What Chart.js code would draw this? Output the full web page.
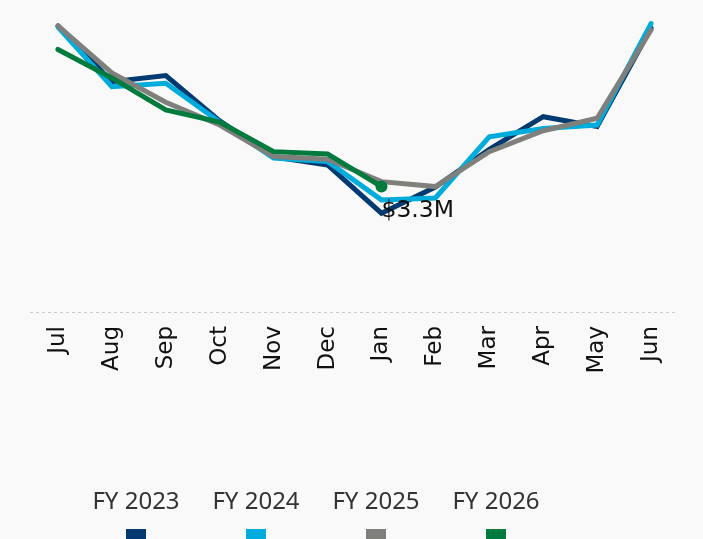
<!DOCTYPE html>
<html>
<head>
<meta charset="utf-8">
<script src="https://cdn.jsdelivr.net/npm/chart.js@4"></script>
<style>
  html, body { margin: 0; padding: 0; background: #f9f9f9; }
  #wrap { width: 703px; height: 539px; position: relative; }
</style>
</head>
<body>
<div id="wrap"><canvas id="c" width="703" height="539"></canvas></div>
<script>
const months = ['Jul','Aug','Sep','Oct','Nov','Dec','Jan','Feb','Mar','Apr','May','Jun'];
const seriesNames = ['FY 2023','FY 2024','FY 2025','FY 2026'];
const fy2023 = [7.53, 6.06, 6.22, 5.03, 4.08, 3.87, 2.60, 3.29, 4.28, 5.14, 4.88, 7.47];
const fy2024 = [7.50, 5.93, 6.02, 5.00, 4.05, 3.96, 2.95, 3.00, 4.61, 4.83, 4.92, 7.59];
const fy2025 = [7.53, 6.29, 5.52, 4.92, 4.09, 4.02, 3.43, 3.30, 4.22, 4.77, 5.10, 7.42];
const fy2026 = [6.91, 6.16, 5.32, 5.00, 4.22, 4.16, 3.30];
const lastLabel = '$3.3M';
const colors = ['#003a70', '#00acdc', '#7f7f7b', '#007a3d'];

const lastIdx = fy2026.length - 1;
const greenRadius = fy2026.map((v, i) => i === lastIdx ? 6 : 0);

const zeroLinePlugin = {
  id: 'zeroLine',
  beforeDatasetsDraw(chart) {
    const ctx = chart.ctx;
    const y = Math.round(chart.scales.y.getPixelForValue(0)) + 0.5;
    ctx.save();
    ctx.strokeStyle = '#cccccc';
    ctx.lineWidth = 1;
    ctx.setLineDash([3, 3]);
    ctx.beginPath();
    ctx.moveTo(30, y);
    ctx.lineTo(676, y);
    ctx.stroke();
    ctx.restore();
  }
};

const labelPlugin = {
  id: 'lastLabel',
  afterDatasetsDraw(chart) {
    const meta = chart.getDatasetMeta(3);
    const pt = meta.data[lastIdx];
    if (!pt) return;
    const ctx = chart.ctx;
    ctx.save();
    ctx.font = '23.5px "DejaVu Sans"';
    ctx.fillStyle = '#111';
    ctx.textAlign = 'left';
    ctx.textBaseline = 'middle';
    ctx.fillText(lastLabel, pt.x + 0, pt.y + 24);
    ctx.restore();
  }
};

const legendPlugin = {
  id: 'customLegend',
  afterDraw(chart) {
    const ctx = chart.ctx;
    ctx.save();
    ctx.font = '24px "Noto Sans"';
    ctx.textAlign = 'center';
    ctx.textBaseline = 'alphabetic';
    seriesNames.forEach((name, i) => {
      const cx = 136 + 120 * i;
      ctx.fillStyle = '#333333';
      ctx.fillText(name, cx, 509);
      ctx.fillStyle = colors[i];
      ctx.fillRect(cx - 10, 529, 20, 20);
    });
    ctx.restore();
  }
};

const bgPlugin = {
  id: 'bg',
  beforeDraw(chart) {
    const ctx = chart.ctx;
    ctx.save();
    ctx.fillStyle = '#f9f9f9';
    ctx.fillRect(0, 0, chart.width, chart.height);
    ctx.restore();
  }
};

const datasets = [fy2023, fy2024, fy2025, fy2026].map((d, i) => ({
  label: seriesNames[i],
  data: d,
  borderColor: colors[i],
  backgroundColor: colors[i],
  borderWidth: 5,
  tension: 0,
  fill: false,
  borderCapStyle: 'round',
  borderJoinStyle: 'miter',
  pointRadius: i === 3 ? greenRadius : 0,
  pointHoverRadius: 0,
  pointBorderWidth: 0,
  order: 3 - i
}));

new Chart(document.getElementById('c'), {
  type: 'line',
  data: { labels: months, datasets },
  options: {
    responsive: false,
    animation: false,
    devicePixelRatio: 1,
    layout: { padding: { left: 31, right: 25, top: 8, bottom: 0 } },
    plugins: { legend: { display: false }, tooltip: { enabled: false } },
    scales: {
      x: {
        offset: true,
        grid: { display: false, drawTicks: false },
        border: { display: false },
        ticks: {
          color: '#111',
          font: { family: 'DejaVu Sans', size: 23 },
          minRotation: 90,
          maxRotation: 90,
          padding: 14,
          autoSkip: false
        },
        afterFit(scale) { scale.height = 539 - 8 - 304; }
      },
      y: {
        display: false,
        min: 0,
        max: 8
      }
    }
  },
  plugins: [bgPlugin, zeroLinePlugin, labelPlugin, legendPlugin]
});
</script>
</body>
</html>
